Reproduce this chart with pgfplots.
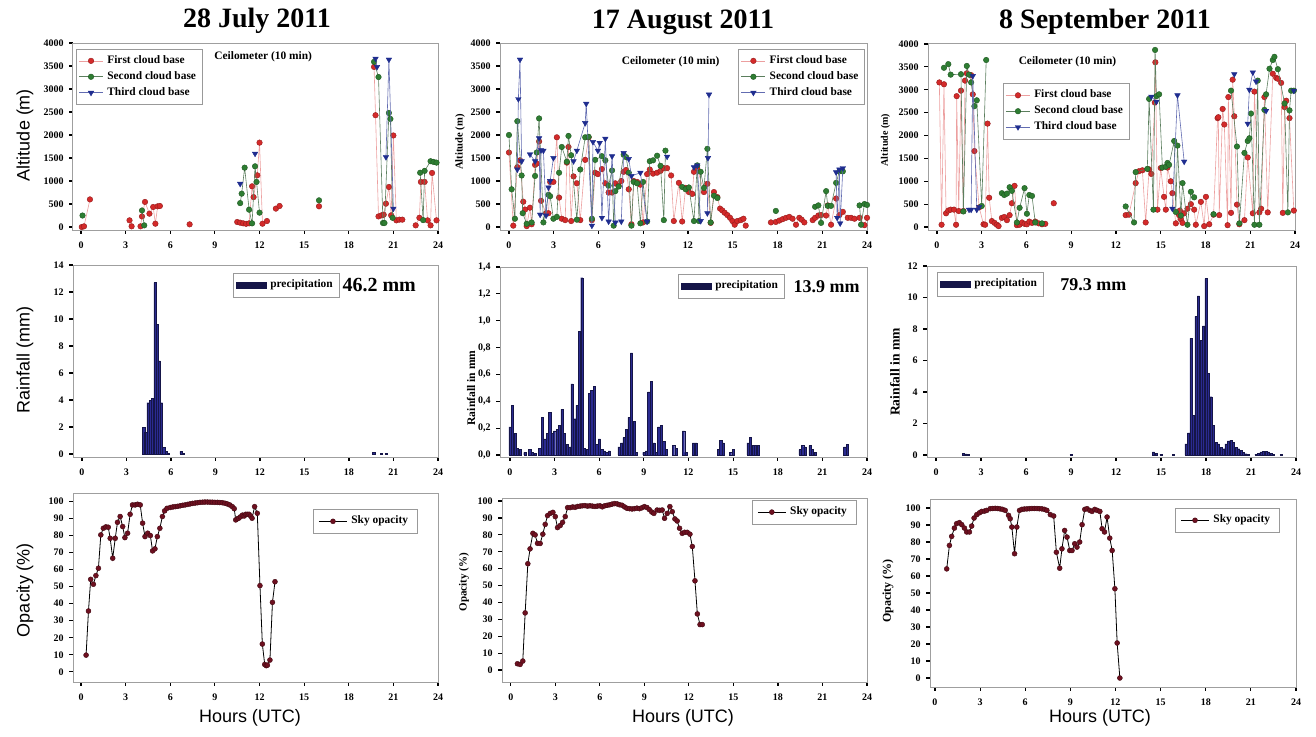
\documentclass[border=0pt]{standalone}
\usepackage{fontspec}
\setmainfont{Liberation Serif}
\newfontfamily\sansf{Liberation Sans}
\usepackage{pgfplots}
\pgfplotsset{compat=1.18}
\definecolor{cbred}{HTML}{D42A2A}
\definecolor{cbgreen}{HTML}{2E7D32}
\definecolor{cbblue}{HTML}{1F2D8F}
\definecolor{barblue}{HTML}{2A2A90}
\definecolor{maroonc}{HTML}{6E1020}
\newcommand{\tickf}{\fontsize{5}{5.5}\selectfont\bfseries}
\newcommand{\legf}{\fontsize{5.7}{6.5}\selectfont\bfseries}
\pgfplotsset{
  panel/.style={
    scale only axis, anchor=south west,
    axis line style={gray!75, line width=0.5pt},
    tick align=outside, xtick pos=left, ytick pos=left,
    major tick length=1.8pt,
    tick style={black, line width=0.6pt},
    xmax=24, xtick={0,3,...,24},
    ticklabel style={font=\tickf},
    /pgf/number format/assume math mode=true,
    /pgf/number format/1000 sep={},
    scaled ticks=false,
    xticklabel style={yshift=-0.5pt}, yticklabel style={xshift=0.6pt},
    legend cell align=left,
    legend style={draw=gray!80, line width=0.4pt, font=\legf, inner sep=1.2pt, row sep=-1.5pt},
    legend image code/.code={\draw[mark repeat=2,mark phase=2,##1] plot coordinates {(0pt,0pt) (6pt,0pt) (12pt,0pt)};},
    unbounded coords=jump,
    clip mode=individual,
  },
  cloudA/.style={draw=cbred!45, line width=0.3pt, mark=*, mark size=1.4pt, mark options={fill=cbred, draw=cbred!70!black, line width=0.2pt, solid}},
  cloudB/.style={draw=cbgreen!45!gray, line width=0.3pt, mark=*, mark size=1.4pt, mark options={fill=cbgreen, draw=cbgreen!70!black, line width=0.2pt, solid}},
  cloudC/.style={draw=cbblue!70, line width=0.3pt, mark=triangle*, mark size=1.6pt, mark options={fill=cbblue, draw=cbblue, rotate=180, line width=0.2pt, solid}},
  rain/.style={ybar, bar width=0.15, fill=barblue, draw=barblue!50!black, line width=0.2pt,
    legend image code/.code={\fill[barblue] (0pt,-1.6pt) rectangle (15pt,1.6pt); \draw[barblue!50!black,line width=0.3pt] (0pt,-1.6pt) rectangle (15pt,1.6pt);}},
  opac/.style={black, line width=0.4pt, mark=*, mark size=1.25pt, mark options={fill=maroonc, draw=maroonc!60!black, line width=0.2pt},
    legend image code/.code={\draw[mark repeat=2,mark phase=2,##1] plot coordinates {(0pt,0pt) (7pt,0pt) (14pt,0pt)};}},
}
\begin{document}
\begin{tikzpicture}
\useasboundingbox (0,0) rectangle (658pt,368pt);
% titles
\node[font=\fontsize{14}{16}\selectfont\bfseries] at (128.5pt,357.5pt) {28 July 2011};
\node[font=\fontsize{14}{16}\selectfont\bfseries] at (341.5pt,357pt) {17 August 2011};
\node[font=\fontsize{14}{16}\selectfont\bfseries] at (552.5pt,357pt) {8 September 2011};
% left column labels
\node[font=\sansf\fontsize{9}{10}\selectfont, rotate=90] at (12.5pt,300.5pt) {Altitude (m)};
\node[font=\sansf\fontsize{9}{10}\selectfont, rotate=90] at (12.5pt,188pt) {Rainfall (mm)};
\node[font=\sansf\fontsize{9}{10}\selectfont, rotate=90] at (12.5pt,73pt) {Opacity (\%)};
% middle column labels
\node[font=\fontsize{5.3}{6}\selectfont\bfseries, rotate=90] at (230pt,297pt) {Altitude (m)};
\node[font=\fontsize{5.8}{6}\selectfont\bfseries, rotate=90] at (235.5pt,174pt) {Rainfall in mm};
\node[font=\fontsize{5.5}{6}\selectfont\bfseries, rotate=90] at (232pt,77pt) {Opacity (\%)};
% right column labels
\node[font=\fontsize{5}{6}\selectfont\bfseries, rotate=90] at (442.75pt,298pt) {Altitude (m)};
\node[font=\fontsize{6.8}{7}\selectfont\bfseries, rotate=90] at (447.5pt,182pt) {Rainfall in mm};
\node[font=\fontsize{6}{7}\selectfont\bfseries, rotate=90] at (444pt,72.5pt) {Opacity (\%)};
% x labels
\node[font=\sansf\fontsize{9}{10}\selectfont] at (125pt,9pt) {Hours (UTC)};
\node[font=\sansf\fontsize{9}{10}\selectfont] at (341.5pt,9pt) {Hours (UTC)};
\node[font=\sansf\fontsize{9}{10}\selectfont] at (550pt,9pt) {Hours (UTC)};

%================ ROW 1 =================
\begin{axis}[panel, at={(36.5pt,253pt)}, width=182.5pt, height=93.5pt,
  xmin=-0.54, ymin=-65, ymax=4000, ytick={0,500,...,4000},
  legend style={at={(0.008,0.97)}, anchor=north west}]
\addplot[cloudA] coordinates {(0.05,0) (0.2,15) (0.6,600) (1,nan)
 (3.26,145) (3.4,15) (3.7,nan)
 (4.0,15) (4.1,230) (4.3,545) (4.6,290) (4.85,435) (5.0,72) (5.15,450) (5.3,457) (5.6,nan)
 (7.3,58) (7.5,nan)
 (10.5,109) (10.7,94) (10.9,80) (11.1,70) (11.3,80) (11.5,885) (11.6,650) (11.85,1124) (12.0,1834) (12.2,72) (12.5,130) (12.8,nan)
 (13.1,400) (13.35,457) (13.6,nan) (16.0,450) (16.2,nan)
 (19.7,3480) (19.8,2430) (20.0,230) (20.2,254) (20.35,268) (20.5,507) (20.7,870) (20.85,254) (21.0,1990) (21.2,145) (21.4,160) (21.6,160) (22,nan)
 (22.5,36) (22.75,200) (22.85,980) (23.1,980) (23.3,145) (23.5,36) (23.6,1175) (23.9,145)};
\addlegendentry{First cloud base}
\addplot[cloudB] coordinates {(0.1,250) (0.3,nan)
 (4.1,360) (4.25,36) (4.5,nan)
 (10.7,520) (10.8,725) (11.0,1290) (11.3,377) (11.5,80) (11.7,1320) (11.8,980) (12.0,312) (12.3,nan)
 (16.0,580) (16.2,nan)
 (19.7,3590) (20.0,3260) (20.3,87) (20.4,87) (20.7,2480) (20.8,2350) (20.95,200) (21.3,nan)
 (22.8,1180) (23.0,150) (23.1,1220) (23.5,1430) (23.7,1415) (23.9,1400)};
\addlegendentry{Second cloud base}
\addplot[cloudC] coordinates {(10.7,940) (11,nan) (11.7,1595) (12,nan) (19.8,3660) (19.9,3480) (20.2,nan) (20.5,1520) (20.7,3640) (21.0,400)};
\addlegendentry{Third cloud base}
\node[anchor=west, font=\legf] at (rel axis cs:0.368,0.925) {Ceilometer (10 min)};
\end{axis}

\begin{axis}[panel, at={(250pt,253pt)}, width=183.5pt, height=93.5pt,
  xmin=-0.6, ymin=-65, ymax=4000, ytick={0,500,...,4000},
  legend style={at={(0.995,0.97)}, anchor=north east}]
\addplot[cloudA] coordinates {(0.0,1620) (0.29,30) (0.56,1300) (0.74,1450) (0.96,550) (1.08,380) (1.19,20) (1.41,420) (1.52,60) (1.75,1350) (1.86,1380) (2.02,1860) (2.15,570) (2.49,300) (2.65,300) (2.76,980) (2.98,980) (3.21,1950) (3.36,640) (3.54,180) (3.77,150) (3.88,1400) (3.99,1740) (4.17,130) (4.33,1100) (4.55,950) (4.78,150) (5.11,1460) (5.34,1950) (5.56,150) (5.78,1180) (5.96,1150) (6.23,1260) (6.46,950) (6.68,750) (6.91,750) (7.13,950) (7.35,900) (7.53,1000) (7.69,1200) (7.85,1240) (8.03,820) (8.21,60) (8.36,1000) (8.59,980) (8.81,920) (8.99,100) (9.26,1150) (9.44,1250) (9.66,1160) (9.93,1180) (10.16,1220) (10.38,1280) (10.6,1280) (10.87,1120) (11.05,130) (11.39,960) (11.61,120) (11.84,850) (12.06,760) (12.29,720) (12.4,1200) (12.62,1280) (13.07,760) (13.3,940) (13.52,90) (13.74,760) (13.97,650) (14.15,400) (14.3,360) (14.46,310) (14.64,260) (14.82,200) (14.98,130) (15.13,50) (15.31,130) (15.54,150) (15.72,180) (15.87,30) (16.2,nan)
 (17.56,100) (17.89,110) (18.12,140) (18.34,170) (18.57,200) (18.79,220) (19.01,180) (19.24,50) (19.46,200) (19.62,160) (19.8,100) (20.0,nan)
 (20.36,150) (20.52,200) (20.74,250) (20.92,260) (21.26,250) (21.37,470) (21.59,50) (21.93,620) (22.15,260) (22.38,330) (22.71,200) (22.93,200) (23.16,180) (23.5,200) (23.83,40) (24.0,200)};
\addlegendentry{First cloud base}
\addplot[cloudB] coordinates {(0.0,2000) (0.18,820) (0.4,180) (0.56,2300) (0.85,1120) (0.92,300) (1.19,70) (1.52,100) (1.75,1110) (1.86,1620) (2.02,2360) (2.31,100) (2.65,700) (2.76,670) (2.98,180) (3.21,220) (3.36,1180) (3.54,1740) (3.88,1420) (3.99,1980) (4.17,1560) (4.55,160) (4.78,1250) (5.11,1950) (5.34,1960) (5.56,180) (5.78,1460) (6.23,1540) (6.46,1450) (6.68,900) (6.91,1230) (7.02,30) (7.13,780) (7.35,880) (7.69,1570) (7.85,1520) (8.03,1180) (8.21,30) (8.36,980) (8.59,950) (8.81,80) (8.99,980) (9.26,120) (9.44,1430) (9.66,1450) (9.93,1550) (10.16,1330) (10.38,150) (10.49,1660) (11.0,nan)
 (11.61,870) (11.84,820) (12.06,860) (12.4,130) (12.62,1340) (12.74,130) (12.85,1200) (13.07,850) (13.3,1700) (13.52,100) (13.74,680) (13.97,630) (14.2,nan)
 (17.89,350) (18.1,nan)
 (20.52,440) (20.74,470) (20.92,90) (21.26,780) (21.37,460) (21.59,460) (21.93,960) (22.15,1210) (22.38,1210) (22.6,nan)
 (23.5,470) (23.6,50) (23.83,500) (24.0,480)};
\addlegendentry{Second cloud base}
\addplot[cloudC] coordinates {(0.56,1250) (0.63,2780) (0.74,3640) (0.85,1430) (1.1,nan)
 (1.41,1580) (1.75,1430) (2.02,1930) (2.09,270) (2.15,1670) (2.31,1660) (2.49,250) (2.65,860) (2.76,1000) (2.98,1500) (3.2,nan)
 (4.33,1430) (4.55,1660) (5.11,2260) (5.18,2680) (5.56,30) (5.63,1850) (5.96,1660) (6.08,1830) (6.23,200) (6.46,1920) (6.68,120) (6.91,1540) (7.13,100) (7.53,120) (7.69,1610) (8.03,1480) (8.21,1110) (8.81,1180) (9.26,120) (9.5,nan)
 (10.6,1530) (10.8,nan)
 (12.4,1300) (12.62,1340) (12.85,130) (13.1,nan)
 (13.3,300) (13.34,1500) (13.41,2880) (13.6,nan)
 (21.93,1190) (22.0,200) (22.15,1250) (22.2,80) (22.38,1280)};
\addlegendentry{Third cloud base}
\node[anchor=west, font=\legf] at (rel axis cs:0.313,0.9) {Ceilometer (10 min)};
\end{axis}

\begin{axis}[panel, at={(464pt,253pt)}, width=183.5pt, height=93pt,
  xmin=-0.6, ymin=-65, ymax=4000, ytick={0,500,...,4000},
  legend style={at={(0.204,0.79)}, anchor=north west}]
\addplot[cloudA] coordinates {(0.16,3160) (0.31,50) (0.47,3120) (0.61,300) (0.76,360) (0.92,380) (1.14,380) (1.28,50) (1.32,2860) (1.46,350) (1.61,2980) (1.77,350) (1.88,3200) (2.0,3360) (2.29,3320) (2.4,2900) (2.51,1660) (2.83,430) (3.12,60) (3.23,50) (3.39,2260) (3.5,640) (3.68,130) (3.86,90) (4.01,50) (4.13,20) (4.35,200) (4.51,220) (4.69,150) (4.87,260) (5.02,520) (5.2,900) (5.36,40) (5.54,50) (5.7,100) (5.87,70) (6.03,60) (6.19,120) (6.37,90) (6.59,120) (6.82,80) (7.04,60) (7.26,70) (7.5,nan)
 (7.83,520) (8.0,nan)
 (12.65,260) (12.87,270) (13.32,960) (13.54,1220) (13.77,1240) (13.99,100) (14.22,1260) (14.37,1160) (14.6,2720) (14.64,3600) (14.78,380) (15.0,1290) (15.22,660) (15.34,380) (15.45,1300) (15.67,1000) (15.78,740) (16.01,80) (16.23,260) (16.28,360) (16.35,170) (16.46,90) (16.57,300) (16.79,400) (17.02,500) (17.24,380) (17.35,50) (17.69,550) (17.91,20) (18.03,660) (18.25,60) (18.54,270) (18.81,2380) (18.86,2400) (18.92,260) (19.15,2580) (19.26,2240) (19.48,40) (19.53,2840) (19.71,310) (19.82,3220) (19.93,2420) (20.11,490) (20.27,60) (20.61,150) (20.83,1520) (21.17,300) (21.28,2960) (21.61,320) (21.73,400) (21.95,2840) (22.17,320) (22.51,3350) (22.74,3260) (22.85,3240) (23.07,3150) (23.18,310) (23.3,2620) (23.41,2760) (23.63,2380) (23.92,360)};
\addlegendentry{First cloud base}
\addplot[cloudB] coordinates {(0.47,3480) (0.76,3560) (0.92,3330) (1.61,3340) (1.77,340) (2.0,3520) (2.15,3330) (2.29,3160) (2.51,2640) (2.67,2770) (3.0,460) (3.3,3650) (3.6,nan)
 (4.35,740) (4.51,700) (4.69,730) (4.87,870) (5.02,790) (5.36,100) (5.54,420) (5.87,850) (6.03,290) (6.19,700) (6.37,680) (6.59,100) (7.04,80) (7.3,nan)
 (12.65,450) (13.21,100) (13.32,1200) (14.1,1270) (14.22,2800) (14.51,380) (14.62,3870) (14.71,2860) (14.89,2900) (15.11,1300) (15.34,1320) (15.45,1400) (15.56,1360) (15.9,1880) (16.01,330) (16.12,1780) (16.35,250) (16.46,960) (16.79,50) (17.02,770) (17.24,650) (17.5,nan)
 (18.54,280) (18.8,nan)
 (19.71,2980) (20.11,1760) (20.27,80) (20.61,1620) (20.83,1880) (20.94,1940) (21.05,2480) (21.28,50) (21.5,3200) (21.61,50) (21.95,2560) (22.06,2900) (22.29,3460) (22.51,3650) (22.62,3720) (22.85,3450) (23.3,2700) (23.52,320) (23.63,2550) (23.74,2980) (23.92,2980)};
\addlegendentry{Second cloud base}
\addplot[cloudC] coordinates {(2.15,380) (2.29,380) (2.4,3300) (2.67,380) (2.83,440) (3.1,nan)
 (14.37,2850) (14.71,2740) (15.0,nan)
 (15.78,400) (16.12,2880) (16.57,1430) (16.8,nan)
 (19.93,3340) (20.2,nan)
 (20.83,2260) (20.94,3000) (21.17,3380) (21.39,3180) (21.6,nan)
 (22.06,2540) (22.3,nan) (23.92,2980)};
\addlegendentry{Third cloud base}
\node[anchor=west, font=\legf] at (rel axis cs:0.228,0.905) {Ceilometer (10 min)};
\end{axis}

%================ ROW 2 =================
\begin{axis}[panel, at={(36.5pt,139.5pt)}, width=182.5pt, height=96pt,
  xmin=-0.6, ymin=-0.22, ymax=14, ytick={0,2,...,14},
  legend style={at={(0.438,0.958)}, anchor=north west}]
\addplot[rain] coordinates {(4.17,2.0) (4.3,1.6) (4.45,3.8) (4.6,4.0) (4.75,4.1) (4.92,12.7) (5.07,9.6) (5.22,6.9) (5.37,3.8) (5.52,0.5) (5.67,0.2) (5.83,0.05) (6.67,0.2) (6.83,0.05) (19.67,0.12) (20.17,0.05) (20.5,0.03)};
\addlegendentry{precipitation}
\node[anchor=west, font=\fontsize{10}{11}\selectfont\bfseries] at (rel axis cs:0.719,0.896) {46.2 mm};
\end{axis}

\begin{axis}[panel, at={(250pt,139.5pt)}, width=183.5pt, height=95pt,
  xmin=-0.67, ymin=-0.015, ymax=1.4, ytick={0,0.2,...,1.4},
  yticklabel style={/pgf/number format/.cd, fixed, fixed zerofill, precision=1, use comma},
  legend style={at={(0.485,0.963)}, anchor=north west}]
\addplot[rain] coordinates {(0,0.21) (0.17,0.37) (0.33,0.16) (0.5,0.05) (0.67,0.04) (1.0,0.02) (1.33,0.04) (1.5,0.02) (1.67,0.01) (2.0,0.05) (2.17,0.28) (2.33,0.12) (2.5,0.16) (2.67,0.32) (2.83,0.16) (3.0,0.18) (3.17,0.19) (3.33,0.22) (3.5,0.34) (3.67,0.16) (3.83,0.08) (4.0,0.06) (4.17,0.53) (4.33,0.27) (4.5,0.37) (4.67,0.92) (4.83,1.32) (5.0,0.05) (5.17,0.04) (5.33,0.46) (5.5,0.48) (5.67,0.51) (5.83,0.08) (6.0,0.12) (6.17,0.04) (6.33,0.03) (6.5,0.02) (6.67,0.03) (7.33,0.06) (7.5,0.09) (7.67,0.13) (7.83,0.19) (8.0,0.28) (8.17,0.76) (8.33,0.25) (8.5,0.02) (9.0,0.02) (9.17,0.03) (9.33,0.47) (9.5,0.55) (9.67,0.09) (9.83,0.02) (10.0,0.21) (10.17,0.22) (10.33,0.1) (10.5,0.04) (11.0,0.07) (11.17,0.05) (11.67,0.18) (11.83,0.02) (12.33,0.09) (12.5,0.09) (14.0,0.04) (14.17,0.11) (14.33,0.09) (14.83,0.02) (15.0,0.04) (16.0,0.09) (16.17,0.13) (16.33,0.07) (16.5,0.07) (16.67,0.07) (19.5,0.04) (19.67,0.07) (19.83,0.06) (20.17,0.07) (20.33,0.04) (20.5,0.02) (22.5,0.06) (22.67,0.08)};
\addlegendentry{precipitation}
\node[anchor=west, font=\fontsize{9}{10}\selectfont\bfseries] at (rel axis cs:0.781,0.895) {13.9 mm};
\end{axis}

\begin{axis}[panel, at={(463.5pt,139.5pt)}, width=184.5pt, height=95.5pt,
  xmin=-0.6, ymin=-0.127, ymax=12, ytick={0,2,...,12},
  legend style={at={(0.027,0.969)}, anchor=north west}]
\addplot[rain] coordinates {(1.83,0.1) (2.0,0.07) (2.17,0.03) (9.0,0.03) (14.5,0.2) (14.67,0.1) (15.0,0.05) (15.83,0.03) (16.67,0.7) (16.83,1.4) (17.0,7.4) (17.17,2.5) (17.33,8.8) (17.5,10.1) (17.67,7.3) (17.83,8.2) (18.0,11.2) (18.17,5.2) (18.33,3.7) (18.5,1.9) (18.67,0.8) (18.83,0.7) (19.0,0.5) (19.17,0.4) (19.33,0.7) (19.5,0.9) (19.67,0.95) (19.83,0.8) (20.0,0.5) (20.17,0.4) (20.33,0.3) (20.5,0.15) (20.67,0.08) (20.83,0.05) (21.33,0.05) (21.5,0.1) (21.67,0.2) (21.83,0.25) (22.0,0.25) (22.17,0.2) (22.33,0.1) (22.5,0.05) (23.0,0.03)};
\addlegendentry{precipitation}
\node[anchor=west, font=\fontsize{9}{10}\selectfont\bfseries] at (rel axis cs:0.342,0.9) {79.3 mm};
\end{axis}

%================ ROW 3 =================
\begin{axis}[panel, at={(36.5pt,27pt)}, width=182.5pt, height=94.5pt,
  xmin=-0.54, ymin=-6, ymax=105, ytick={0,10,...,100},
  legend style={at={(0.658,0.915)}, anchor=north west, inner xsep=2.5pt}]
\addplot[opac] coordinates {(0.34,9.8) (0.5,35.7) (0.65,54.3) (0.83,51.4) (1.0,56.5) (1.17,60.8) (1.33,80.4) (1.5,84.3) (1.67,85.1) (1.83,84.9) (1.96,78.4) (2.13,66.7) (2.3,78.4) (2.45,87.8) (2.63,91.2) (2.8,85.3) (2.95,78.8) (3.13,81.4) (3.3,92.5) (3.46,98) (3.64,98) (3.8,98.4) (3.98,98) (4.14,87.3) (4.3,79.4) (4.48,81.4) (4.66,80) (4.81,71) (4.97,72.2) (5.13,79.4) (5.3,84.3) (5.47,91.2) (5.62,94.5) (5.78,96) (6.0,96.5) (6.17,96.8) (6.33,97.0) (6.5,97.2) (6.67,97.5) (6.83,97.8) (7.0,98.0) (7.17,98.3) (7.33,98.6) (7.5,98.9) (7.67,99.1) (7.83,99.3) (8.0,99.5) (8.17,99.6) (8.33,99.7) (8.5,99.7) (8.67,99.6) (8.83,99.6) (9.0,99.5) (9.17,99.5) (9.33,99.4) (9.5,99.3) (9.67,99.0) (9.83,98.6) (10.0,98.0) (10.17,97.0) (10.3,95.8) (10.4,89.2) (10.5,89.8) (10.6,90.2) (10.72,91) (10.85,92) (10.97,91.5) (11.07,92.5) (11.18,92.5) (11.3,92.5) (11.4,91.5) (11.5,90.2) (11.67,97) (11.85,93.1) (12.03,50.6) (12.19,16.3) (12.35,4.3) (12.45,3.6) (12.53,3.9) (12.7,6.9) (12.87,40.8) (13.04,52.9)};
\addlegendentry{Sky opacity}
\end{axis}

\begin{axis}[panel, at={(251pt,27pt)}, width=182.5pt, height=92pt,
  xmin=-0.59, ymin=-7.1, ymax=101.8, ytick={0,10,...,100},
  legend style={at={(0.685,0.99)}, anchor=north west, inner xsep=2.5pt}]
\addplot[opac] coordinates {(0.45,3.7) (0.63,3.3) (0.81,5.3) (0.97,33.8) (1.15,62.9) (1.3,71.7) (1.49,80.9) (1.64,80) (1.8,75) (1.98,74.9) (2.16,80.4) (2.32,86.2) (2.48,91.4) (2.66,92.7) (2.84,93.3) (3.0,90.8) (3.15,84.3) (3.33,85.5) (3.49,87.4) (3.67,90.8) (3.83,96.1) (4.0,96.1) (4.17,96.5) (4.33,96.3) (4.5,96.8) (4.67,97.0) (4.83,97.2) (5.0,97.3) (5.17,97.0) (5.33,97.2) (5.5,97.0) (5.67,96.8) (5.83,97.0) (6.0,97.2) (6.17,96.6) (6.33,97.2) (6.5,97.5) (6.67,97.8) (6.83,98.2) (7.0,98.5) (7.17,98.3) (7.33,97.8) (7.5,97.5) (7.67,96.5) (7.84,95.7) (8.0,95.5) (8.17,95.3) (8.33,95.5) (8.5,95.8) (8.67,95.5) (8.83,96.0) (9.0,96.7) (9.17,96.2) (9.33,95.0) (9.5,93.5) (9.64,92.7) (9.86,94.7) (10.03,94.5) (10.2,94.7) (10.36,89.8) (10.54,92.7) (10.72,96.7) (10.88,93.7) (11.06,89.4) (11.21,88.2) (11.37,83.9) (11.55,80.9) (11.71,81.5) (11.89,81.5) (12.07,80.4) (12.23,73.1) (12.41,52.8) (12.57,33.2) (12.75,26.9) (12.9,26.9)};
\addlegendentry{Sky opacity}
\end{axis}

\begin{axis}[panel, at={(465pt,24.5pt)}, width=183pt, height=94pt,
  xmin=-0.33, ymin=-5.3, ymax=105.3, ytick={0,10,...,100},
  legend style={at={(0.67,0.952)}, anchor=north west, inner xsep=2.5pt}]
\addplot[opac] coordinates {(0.78,64.2) (0.96,78) (1.11,83.3) (1.29,88.2) (1.44,90.8) (1.62,91.4) (1.78,90.2) (1.96,88.2) (2.11,85.9) (2.29,85.9) (2.44,89.4) (2.6,94.1) (2.78,96.1) (2.96,97.2) (3.11,98) (3.29,98.2) (3.44,98.6) (3.67,99.6) (3.83,99.7) (4.0,99.8) (4.17,99.7) (4.33,99.5) (4.5,99.2) (4.67,98.6) (4.89,95.7) (5.0,93.7) (5.11,88.8) (5.29,73.1) (5.44,88.8) (5.62,98.6) (5.78,99.2) (5.94,99.4) (6.11,99.5) (6.28,99.6) (6.44,99.7) (6.61,99.7) (6.78,99.7) (6.94,99.6) (7.11,99.5) (7.28,99.2) (7.44,98.6) (7.67,96.1) (7.89,95.3) (8.07,74) (8.29,64.6) (8.44,76) (8.62,86.8) (8.78,82.9) (8.96,75) (9.11,75) (9.29,79) (9.44,77) (9.62,80) (9.78,90.2) (9.96,99.2) (10.11,99.6) (10.29,98.6) (10.44,98) (10.62,99.2) (10.78,98.6) (10.96,98) (11.11,87.8) (11.27,85.9) (11.44,94.7) (11.62,82.3) (11.78,75) (11.96,52.5) (12.11,20.6) (12.29,0)};
\addlegendentry{Sky opacity}
\end{axis}
\end{tikzpicture}
\end{document}
